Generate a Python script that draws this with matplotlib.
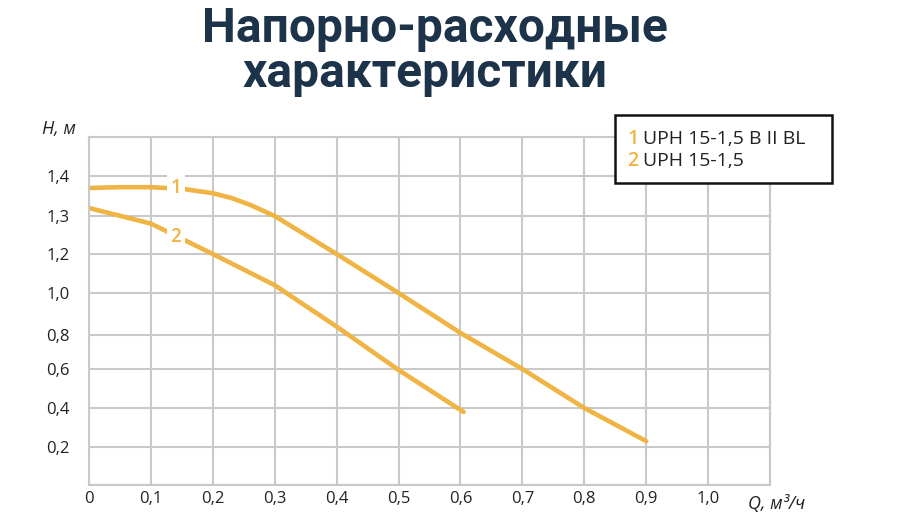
import numpy as np
import matplotlib
matplotlib.use("Agg")
import matplotlib.pyplot as plt
from matplotlib.patches import Rectangle

# head/flow curves, values
q1 = [0.0, 0.05, 0.1, 0.15, 0.2, 0.23, 0.26, 0.3, 0.35, 0.4, 0.45, 0.5, 0.6, 0.7, 0.8, 0.9]
h1 = [1.37, 1.372, 1.372, 1.368, 1.357, 1.345, 1.328, 1.30, 1.25, 1.20, 1.10, 1.00, 0.81, 0.60, 0.40, 0.23]
q2 = [0.0, 0.1, 0.2, 0.3, 0.4, 0.5, 0.605]
h2 = [1.32, 1.28, 1.20, 1.04, 0.84, 0.595, 0.38]

x_ticks = [0, 0.1, 0.2, 0.3, 0.4, 0.5, 0.6, 0.7, 0.8, 0.9, 1.0, 1.1]
x_labels = ["0", "0,1", "0,2", "0,3", "0,4", "0,5", "0,6", "0,7", "0,8", "0,9", "1,0", ""]
# the y axis of the source is not linear: each labelled value sits on a grid line
y_ticks = [0, 0.2, 0.4, 0.6, 0.8, 1.0, 1.2, 1.3, 1.4, 1.5]
y_labels = ["", "0,2", "0,4", "0,6", "0,8", "1,0", "1,2", "1,3", "1,4", ""]
y_grid_px = [0, 38, 77, 116, 150, 192, 231, 269, 309, 348]

legend_names = ["UPH 15-1,5 B II BL", "UPH 15-1,5"]

gold = "#EFB443"
navy = "#1C3349"
grid_c = "#C9C9C9"

plt.rcParams["font.family"] = ["Open Sans", "DejaVu Sans"]

def fwd(h):
    return np.interp(h, y_ticks, y_grid_px)

def inv(p):
    return np.interp(p, y_grid_px, y_ticks)

fig = plt.figure(figsize=(8.97, 5.15), dpi=100)
ax = fig.add_axes([89 / 897, 30 / 515, 681 / 897, 348 / 515])
ax.set_yscale("function", functions=(fwd, inv))
ax.set_xlim(0, 1.1)
ax.set_ylim(0, 1.5)

ax.set_xticks(x_ticks)
ax.set_xticklabels(x_labels)
ax.set_yticks(y_ticks)
ax.set_yticklabels(y_labels)
ax.minorticks_off()
ax.tick_params(length=0, labelsize=12, colors="#222222")
ax.tick_params(axis="y", pad=14)
ax.tick_params(axis="x", pad=4)
ax.grid(True, color=grid_c, lw=1.5)
for s in ax.spines.values():
    s.set_color(grid_c)
    s.set_linewidth(1.5)
ax.set_axisbelow(True)

ax.plot(q1, h1, color=gold, lw=3.3, solid_capstyle="round")
ax.plot(q2, h2, color=gold, lw=3.3, solid_capstyle="round")

for q, h, t in [(0.14, 1.37, "1"), (0.14, 1.245, "2")]:
    ax.text(q, h, t, color=gold, fontsize=13.5, fontweight="semibold", ha="center", va="center",
            bbox=dict(facecolor="white", edgecolor="none", pad=2.5), zorder=5)

ax.text(-0.02, 0.997, "H, м", transform=ax.transAxes, ha="right", va="bottom",
        fontsize=13, style="italic", color="#222222")
ax.text(0.968, -0.03, "Q, м³/ч", transform=ax.transAxes, ha="left", va="top",
        fontsize=13, style="italic", color="#222222")

fig.text(435 / 897, (515 - 42) / 515, "Напорно-расходные", ha="center", va="baseline",
         fontsize=34.5, fontweight="bold", color=navy, family="Roboto")
fig.text(425 / 897, (515 - 87) / 515, "характеристики", ha="center", va="baseline",
         fontsize=34.5, fontweight="bold", color=navy, family="Roboto")

# legend box
fig.patches.append(Rectangle((615 / 897, (515 - 183) / 515), 217 / 897, 68 / 515,
                             transform=fig.transFigure, facecolor="white",
                             edgecolor="#111111", lw=1.8, zorder=10))
for i, name in enumerate(legend_names):
    y = (515 - 138.5 - 23 * i) / 515
    fig.text(627 / 897, y, str(i + 1), color=gold, fontsize=14, fontweight="semibold",
             va="center", zorder=11)
    fig.text(643 / 897, y, name, color="#222222", fontsize=14, va="center", zorder=11)

fig.savefig("out.png", dpi=100)
